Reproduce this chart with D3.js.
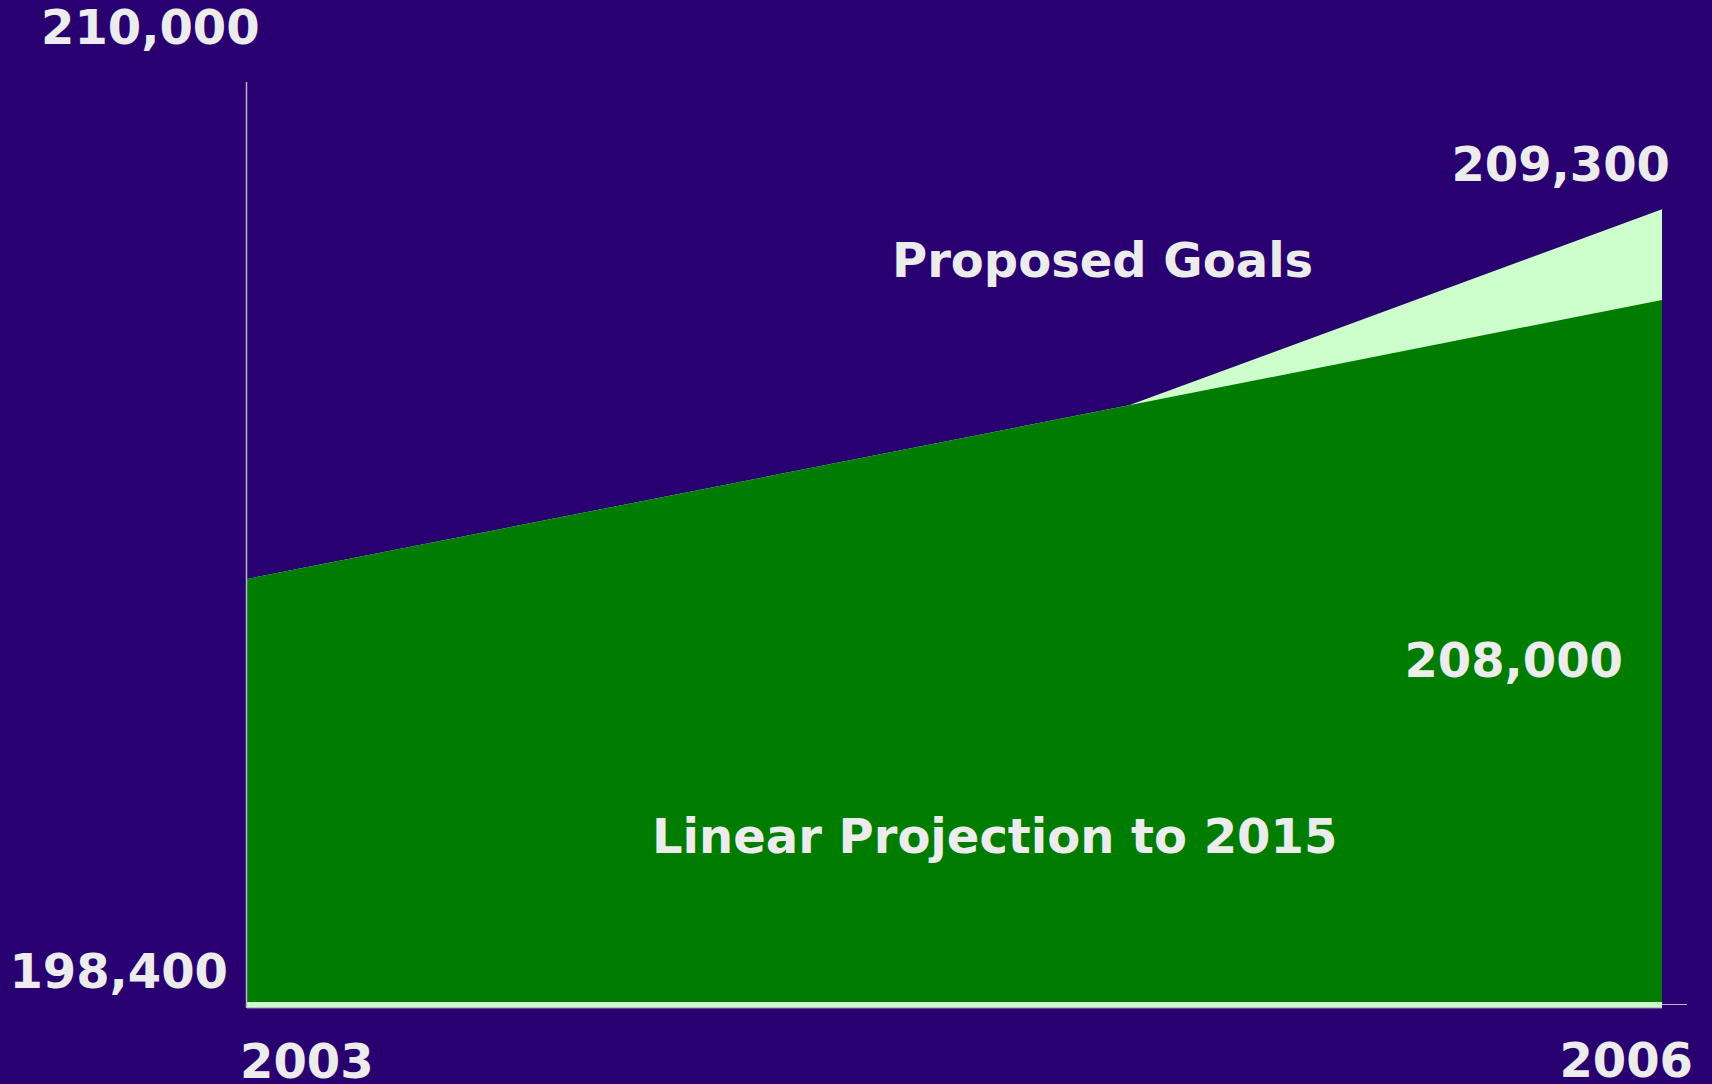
<!DOCTYPE html>
<html>
<head>
<meta charset="utf-8">
<script src="https://cdn.jsdelivr.net/npm/d3@7"></script>
<style>
  html, body { margin: 0; padding: 0; background: #29006f; }
  svg { display: block; }
  text { font-family: "DejaVu Sans", Verdana, sans-serif; font-weight: bold; fill: #ececec; font-size: 48px; }
</style>
</head>
<body>
<svg id="chart" width="1712" height="1084"></svg>
<script>
// ---- data ----
const years = [2003, 2004.87, 2006];
const linearProjection = [204000, 206490, 208000];
const proposedGoals = [204000, 206490, 209300];
const xTickLabels = ["2003", "2006"];
const yTickLabels = ["210,000", "198,400"];
const yTickValues = [210000, 198400];
const yExtent = [197935, 211125];
const endLabels = ["209,300", "208,000"];
const seriesNames = ["Proposed Goals", "Linear Projection to 2015"];

// ---- layout ----
const W = 1712, H = 1084;
const svg = d3.select("#chart");
svg.append("rect").attr("width", W).attr("height", H).attr("fill", "#29006f");

const x = d3.scaleLinear().domain([years[0], years[years.length - 1]]).range([247, 1662]);
const y = d3.scaleLinear().domain(yExtent).range([1002, 82]);

const goalRows = years.map((yr, i) => ({ yr, v: proposedGoals[i] }));
const linRows = years.map((yr, i) => ({ yr, v: linearProjection[i] }));

// x axis line
svg.append("line")
  .attr("x1", x(years[0])).attr("x2", x(years[years.length - 1]) + 25)
  .attr("y1", y(yExtent[0]) + 2.5).attr("y2", y(yExtent[0]) + 2.5)
  .attr("stroke", "#b8b4cc").attr("stroke-width", 1.2);

// proposed goals area (light), extends slightly below the baseline
const goalArea = d3.area()
  .x(d => x(d.yr))
  .y0(y(yExtent[0]) + 6)
  .y1(d => y(d.v));
svg.append("path").datum(goalRows).attr("d", goalArea).attr("fill", "#ccffcc");

// bottom edge of strip
svg.append("line")
  .attr("x1", x(years[0])).attr("x2", x(years[years.length - 1]))
  .attr("y1", y(yExtent[0]) + 6).attr("y2", y(yExtent[0]) + 6)
  .attr("stroke", "#9c98b0").attr("stroke-width", 1);

// linear projection area (green)
const linArea = d3.area()
  .x(d => x(d.yr))
  .y0(y(yExtent[0]))
  .y1(d => y(d.v));
svg.append("path").datum(linRows).attr("d", linArea).attr("fill", "#007d00");

// y axis line
svg.append("line")
  .attr("x1", x(years[0]) - 0.5).attr("x2", x(years[0]) - 0.5)
  .attr("y1", y(yExtent[1])).attr("y2", y(yExtent[0]) + 6)
  .attr("stroke", "#b8b4cc").attr("stroke-width", 1.5);

// y tick labels
svg.append("text").attr("x", 41).attr("y", 44).text(yTickLabels[0]);
svg.append("text").attr("x", 228).attr("y", y(yTickValues[1]) + 18)
  .attr("text-anchor", "end").text(yTickLabels[1]);

// x tick labels
svg.append("text").attr("x", x(years[0]) - 7).attr("y", 1078).text(xTickLabels[0]);
svg.append("text").attr("x", x(years[years.length - 1]) + 31).attr("y", 1077)
  .attr("text-anchor", "end").text(xTickLabels[1]);

// end value labels
svg.append("text").attr("x", x(years[years.length - 1]) + 8)
  .attr("y", y(proposedGoals[proposedGoals.length - 1]) - 28)
  .attr("text-anchor", "end").text(endLabels[0]);
svg.append("text").attr("x", x(years[years.length - 1]) - 39).attr("y", 677)
  .attr("text-anchor", "end").text(endLabels[1]);

// series labels
svg.append("text").attr("x", 892).attr("y", 277).text(seriesNames[0]);
svg.append("text").attr("x", 652).attr("y", 853).text(seriesNames[1]);
</script>
</body>
</html>
